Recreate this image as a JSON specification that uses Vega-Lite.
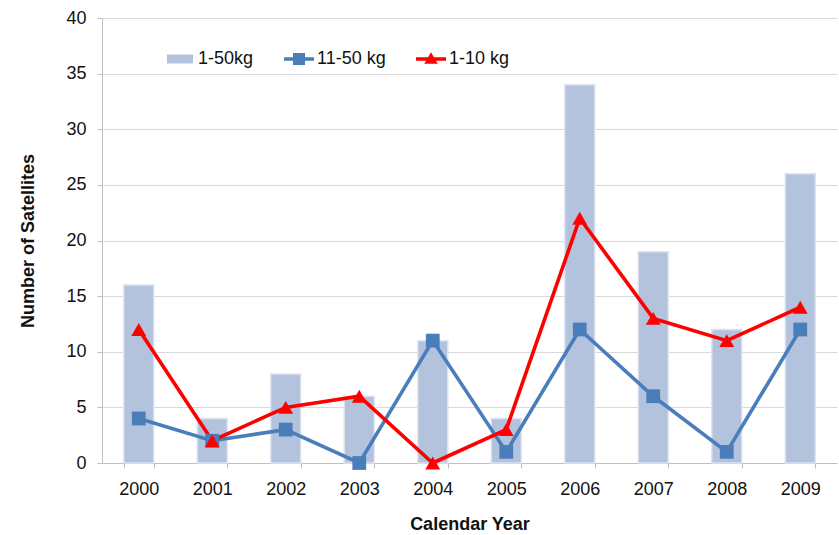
{
  "$schema": "https://vega.github.io/schema/vega-lite/v6.json",
  "width": 735,
  "height": 445,
  "autosize": "none",
  "padding": {"left": 102, "top": 18, "right": 2, "bottom": 72},
  "background": "white",
  "datasets": {
    "sats": [
      {"year": "2000", "series": "1-50kg", "count": 16},
      {"year": "2001", "series": "1-50kg", "count": 4},
      {"year": "2002", "series": "1-50kg", "count": 8},
      {"year": "2003", "series": "1-50kg", "count": 6},
      {"year": "2004", "series": "1-50kg", "count": 11},
      {"year": "2005", "series": "1-50kg", "count": 4},
      {"year": "2006", "series": "1-50kg", "count": 34},
      {"year": "2007", "series": "1-50kg", "count": 19},
      {"year": "2008", "series": "1-50kg", "count": 12},
      {"year": "2009", "series": "1-50kg", "count": 26},
      {"year": "2000", "series": "11-50 kg", "count": 4},
      {"year": "2001", "series": "11-50 kg", "count": 2},
      {"year": "2002", "series": "11-50 kg", "count": 3},
      {"year": "2003", "series": "11-50 kg", "count": 0},
      {"year": "2004", "series": "11-50 kg", "count": 11},
      {"year": "2005", "series": "11-50 kg", "count": 1},
      {"year": "2006", "series": "11-50 kg", "count": 12},
      {"year": "2007", "series": "11-50 kg", "count": 6},
      {"year": "2008", "series": "11-50 kg", "count": 1},
      {"year": "2009", "series": "11-50 kg", "count": 12},
      {"year": "2000", "series": "1-10 kg", "count": 12},
      {"year": "2001", "series": "1-10 kg", "count": 2},
      {"year": "2002", "series": "1-10 kg", "count": 5},
      {"year": "2003", "series": "1-10 kg", "count": 6},
      {"year": "2004", "series": "1-10 kg", "count": 0},
      {"year": "2005", "series": "1-10 kg", "count": 3},
      {"year": "2006", "series": "1-10 kg", "count": 22},
      {"year": "2007", "series": "1-10 kg", "count": 13},
      {"year": "2008", "series": "1-10 kg", "count": 11},
      {"year": "2009", "series": "1-10 kg", "count": 14}
    ],
    "keys": [
      {"series": "1-50kg"},
      {"series": "11-50 kg"},
      {"series": "1-10 kg"}
    ]
  },
  "config": {
    "view": {"stroke": null},
    "font": "Liberation Sans",
    "axis": {
      "labelFont": "Liberation Sans",
      "labelFontSize": 18,
      "labelColor": "#111111",
      "titleFont": "Liberation Sans",
      "titleFontSize": 18,
      "titleFontWeight": "bold",
      "titleColor": "#111111",
      "domainColor": "#BFBFBF",
      "tickColor": "#BFBFBF",
      "gridColor": "#D9D9D9",
      "tickSize": 5
    },
    "legend": {
      "orient": "none",
      "legendX": 63,
      "legendY": 26,
      "direction": "horizontal",
      "symbolSize": 900,
      "labelFontSize": 18,
      "labelFont": "Liberation Sans",
      "labelColor": "#111111",
      "labelOffset": 3,
      "columnPadding": 30,
      "symbolStrokeWidth": 0
    }
  },
  "encoding": {
    "x": {
      "field": "year",
      "type": "ordinal",
      "title": "Calendar Year",
      "scale": {
        "domain": ["2000", "2001", "2002", "2003", "2004", "2005", "2006", "2007", "2008", "2009"],
        "paddingInner": 0.592,
        "paddingOuter": 0.296
      },
      "axis": {
        "labelAngle": 0,
        "tickBand": "extent",
        "labelPadding": 12,
        "titlePadding": 17,
        "grid": false
      }
    },
    "y": {
      "field": "count",
      "type": "quantitative",
      "title": "Number of Satellites",
      "scale": {"domain": [0, 40], "nice": false},
      "axis": {
        "values": [0, 5, 10, 15, 20, 25, 30, 35, 40],
        "labelPadding": 11,
        "titlePadding": 28,
        "grid": true
      }
    },
    "color": {
      "field": "series",
      "type": "nominal",
      "title": null,
      "scale": {"domain": ["1-50kg", "11-50 kg", "1-10 kg"], "range": ["#B3C3DD", "#4A7EBB", "#FF0000"]}
    }
  },
  "layer": [
    {
      "data": {"name": "sats"},
      "transform": [{"filter": "datum.series === '1-50kg'"}],
      "mark": {"type": "bar", "stroke": "#DDE4F0", "strokeWidth": 1.5}
    },
    {
      "data": {"name": "sats"},
      "transform": [{"filter": "datum.series !== '1-50kg'"}],
      "mark": {"type": "line", "strokeWidth": 3.6}
    },
    {
      "data": {"name": "sats"},
      "transform": [{"filter": "datum.series === '11-50 kg'"}],
      "mark": {"type": "point", "shape": "square", "filled": true, "opacity": 1, "size": 190}
    },
    {
      "data": {"name": "sats"},
      "transform": [{"filter": "datum.series === '1-10 kg'"}],
      "mark": {"type": "point", "shape": "triangle-up", "filled": true, "opacity": 1, "size": 220}
    },
    {
      "data": {"name": "keys"},
      "mark": {"type": "point", "filled": true, "opacity": 1},
      "encoding": {
        "shape": {
          "field": "series",
          "type": "nominal",
          "title": null,
          "scale": {
            "domain": ["1-50kg", "11-50 kg", "1-10 kg"],
            "range": [
              "M-0.87,-0.3L0.87,-0.3L0.87,0.3L-0.87,0.3Z",
              "M-1,-0.11L1,-0.11L1,0.11L-1,0.11ZM-0.4,-0.4L0.4,-0.4L0.4,0.4L-0.4,0.4Z",
              "M-1,-0.11L1,-0.11L1,0.11L-1,0.11ZM0,-0.45L0.45,0.32L-0.45,0.32Z"
            ]
          }
        }
      }
    }
  ]
}
